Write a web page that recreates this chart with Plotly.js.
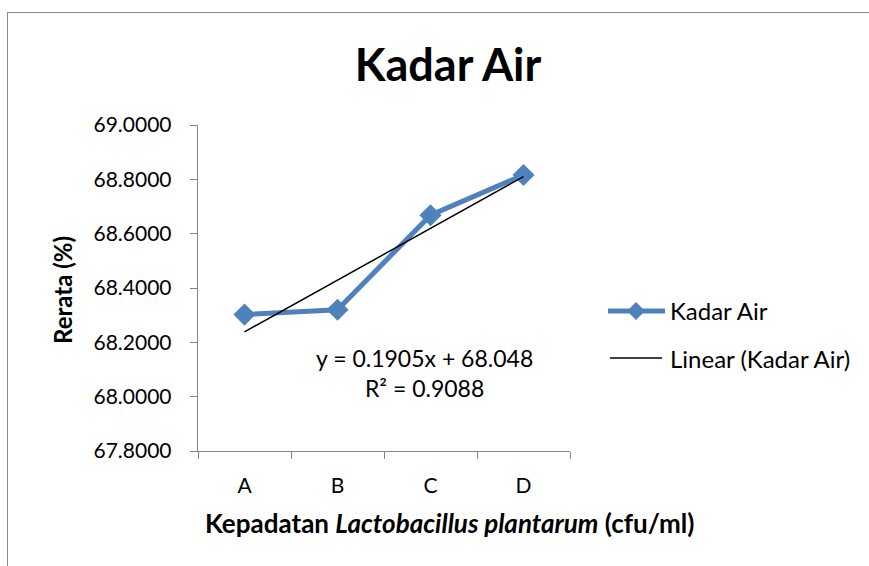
<!DOCTYPE html>
<html><head><meta charset="utf-8">
<script src="https://cdn.plot.ly/plotly-3.0.1.min.js"></script>
<style>body{margin:0;overflow:hidden;background:#fff}#c{width:869px;height:566px}
#frame{position:absolute;left:7px;top:12px;width:900px;height:600px;border:1.5px solid #8c8c8c;pointer-events:none}</style>
</head><body><div id="c"></div><div id="frame"></div>
<script>
const categories = ["A","B","C","D"];
const kadarAir = [68.302, 68.320, 68.668, 68.816];
const trendSlope = 0.1905;
const trendIntercept = 68.048;
const rSquared = 0.9088;
const yTicks = [67.8, 68.0, 68.2, 68.4, 68.6, 68.8, 69.0];

const FONT = "Lato, 'Open Sans', sans-serif";
const L = 198, R = 570, T = 125, B = 451;
const W = R - L, H = B - T;
const px = x => (x - L) / W, py = y => (B - y) / H;

const trendX = [categories[0], categories[categories.length-1]];
const trendY = [trendIntercept + trendSlope*1, trendIntercept + trendSlope*categories.length];

const blue = "#4F81BD";
const data = [
  {x: categories, y: kadarAir, type: "scatter", mode: "lines+markers", name: "Kadar Air",
   line: {color: blue, width: 5}, marker: {symbol: "diamond", size: 17, color: blue}, showlegend: false},
  {x: trendX, y: trendY, type: "scatter", mode: "lines", name: "Linear (Kadar Air)",
   line: {color: "#000", width: 1.5}, showlegend: false}
];

const dX = 9/W, dY = 9/H;
const lx = px(636), ly = py(311);
const layout = {
  width: 869, height: 566,
  margin: {l: L, r: 869 - R, t: T, b: 566 - B},
  paper_bgcolor: "#fff", plot_bgcolor: "#fff",
  font: {family: FONT, color: "#000"},
  title: {text: "<b>Kadar Air</b>", font: {family: FONT, size: 45, color: "#000"}, x: px(448), xanchor: "center", xref: "paper", y: 1 - 65/566, yanchor: "middle"},
  xaxis: {type: "category", range: [-0.5, 3.5], tickson: "boundaries", ticks: "outside", ticklen: 7, tickcolor: "#868686",
          showline: true, linecolor: "#868686", linewidth: 1.3, showgrid: false, zeroline: false,
          tickfont: {size: 21, family: FONT}, ticklabelstandoff: 15},
  yaxis: {range: [67.8, 69.0], tickvals: yTicks, ticktext: yTicks.map(v => v.toFixed(4)),
          ticks: "outside", ticklen: 7, tickcolor: "#868686", showline: true, linecolor: "#868686", linewidth: 1.3,
          showgrid: false, zeroline: false, tickfont: {size: 21, family: FONT}, ticklabelstandoff: 14},
  shapes: [
    {type: "line", xref: "paper", yref: "paper", x0: px(608), x1: px(665), y0: ly, y1: ly, line: {color: blue, width: 5}},
    {type: "path", xref: "paper", yref: "paper", fillcolor: blue, line: {width: 0},
     path: `M ${lx-dX} ${ly} L ${lx} ${ly+dY} L ${lx+dX} ${ly} L ${lx} ${ly-dY} Z`},
    {type: "line", xref: "paper", yref: "paper", x0: px(610), x1: px(662), y0: py(358), y1: py(358), line: {color: "#000", width: 1.5}}
  ],
  annotations: [
    {xref: "paper", yref: "paper", x: px(449), y: py(523), xanchor: "center", yanchor: "middle", showarrow: false,
     text: "<b>Kepadatan <i>Lactobacillus plantarum</i> (cfu/ml)</b>", font: {size: 26, family: FONT}},
    {xref: "paper", yref: "paper", x: px(62), y: py(290), xanchor: "center", yanchor: "middle", showarrow: false, textangle: -90,
     text: "<b>Rerata (%)</b>", font: {size: 24, family: FONT}},
    {xref: "paper", yref: "paper", x: px(668), y: py(310), xanchor: "left", yanchor: "middle", showarrow: false,
     text: "Kadar Air", font: {size: 24, family: FONT}},
    {xref: "paper", yref: "paper", x: px(668), y: py(358), xanchor: "left", yanchor: "middle", showarrow: false,
     text: "Linear (Kadar Air)", font: {size: 24, family: FONT}},
    {xref: "paper", yref: "paper", x: px(424), y: py(373), xanchor: "center", yanchor: "middle", showarrow: false,
     text: "y = " + trendSlope + "x + " + trendIntercept + "<br>R² = " + rSquared, align: "center", font: {size: 23, family: FONT}}
  ]
};
Plotly.newPlot("c", data, layout, {displayModeBar: false, staticPlot: true});
</script></body></html>
